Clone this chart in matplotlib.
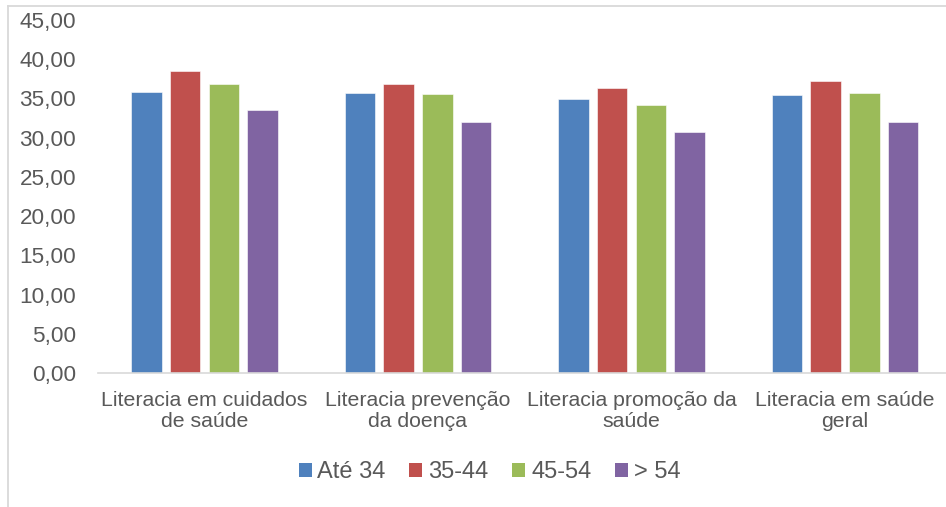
import matplotlib
matplotlib.use('Agg')
import matplotlib.pyplot as plt
from matplotlib.lines import Line2D
from matplotlib.patches import Patch
import numpy as np

plt.rcParams['font.family'] = ['Liberation Sans', 'DejaVu Sans']

# dados
categorias = ['Literacia em cuidados\nde saúde', 'Literacia prevenção\nda doença',
              'Literacia promoção da\nsaúde', 'Literacia em saúde\ngeral']
faixas = ['Até 34', '35-44', '45-54', '> 54']
ate_34 = [35.85, 35.70, 34.95, 35.45]
de_35_44 = [38.55, 36.90, 36.30, 37.20]
de_45_54 = [36.85, 35.55, 34.15, 35.65]
mais_54 = [33.50, 31.95, 30.70, 32.05]
cores = ['#4F81BD', '#C0504D', '#9BBB59', '#8064A2']
yticks = np.arange(0, 46, 5)

texto = '#595959'
cinza = '#D9D9D9'

W, H = 946, 507
fig = plt.figure(figsize=(W / 100, H / 100), dpi=100)
ax = fig.add_axes([97.75 / W, (H - 373) / H, 854 / W, 353 / H])

x = np.arange(len(categorias))
passo = 0.181
largura = 0.143
series = [ate_34, de_35_44, de_45_54, mais_54]
for i, (vals, cor) in enumerate(zip(series, cores)):
    ax.bar(x + (i - 1.5) * passo, vals, width=largura, color=cor,
           edgecolor='white', linewidth=0.4, zorder=2)

ax.set_xlim(-0.5, len(categorias) - 0.5)
ax.set_ylim(0, 45)
ax.set_yticks(yticks)
ax.set_yticklabels([f'{v:.2f}'.replace('.', ',') for v in yticks])
ax.set_xticks(x)
ax.set_xticklabels(categorias, linespacing=1.15)

for s in ['top', 'right', 'left']:
    ax.spines[s].set_visible(False)
ax.spines['bottom'].set_color(cinza)
ax.spines['bottom'].set_linewidth(1.2)

ax.tick_params(axis='y', length=0, pad=15.5, labelsize=16.2, labelcolor=texto)
ax.tick_params(axis='x', length=0, pad=13, labelsize=15.3, labelcolor=texto)

handles = [Patch(facecolor=c, edgecolor='none') for c in cores]
fig.legend(handles, faixas, loc='center', bbox_to_anchor=(489.5 / W, 1 - 472 / H),
           ncol=4, frameon=False, fontsize=17, labelcolor=texto,
           handlelength=0.55, handleheight=0.55, handletextpad=0.25,
           columnspacing=1.0)

# moldura do grafico (cortada a direita e em baixo)
fig.add_artist(Line2D([8 / W, 8 / W], [0, 1 - 6 / H], color=cinza, lw=1.3,
                      transform=fig.transFigure))
fig.add_artist(Line2D([8 / W, 1], [1 - 6 / H, 1 - 6 / H], color=cinza, lw=1.3,
                      transform=fig.transFigure))

fig.savefig('out.png', dpi=100)
